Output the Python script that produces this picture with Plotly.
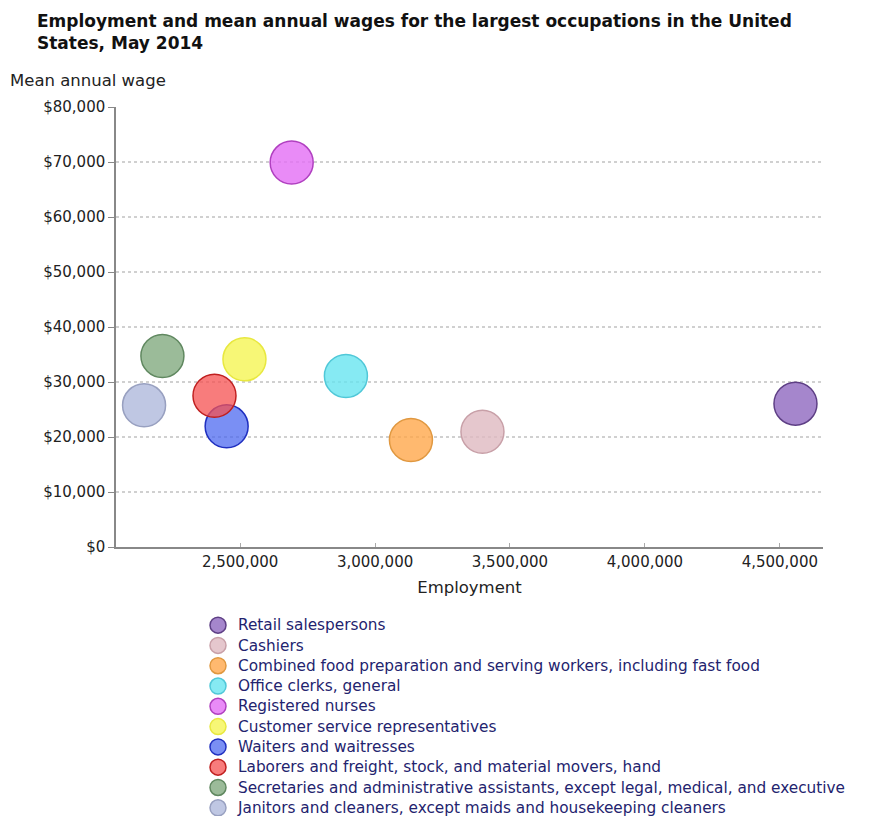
import plotly.graph_objects as go

occupations = [
    "Retail salespersons",
    "Cashiers",
    "Combined food preparation and serving workers, including fast food",
    "Office clerks, general",
    "Registered nurses",
    "Customer service representatives",
    "Waiters and waitresses",
    "Laborers and freight, stock, and material movers, hand",
    "Secretaries and administrative assistants, except legal, medical, and executive",
    "Janitors and cleaners, except maids and housekeeping cleaners",
]
employment = [4558000, 3398000, 3133000, 2892000, 2691000, 2516000, 2450000, 2405000, 2212000, 2144000]
mean_wage = [26060, 20960, 19450, 31090, 69900, 34120, 21940, 27500, 34730, 25760]

fill_colors = [
    "rgba(140,100,190,0.78)",
    "rgba(222,185,192,0.80)",
    "rgba(255,165,70,0.78)",
    "rgba(100,228,240,0.78)",
    "rgba(228,110,245,0.80)",
    "rgba(245,245,80,0.78)",
    "rgba(70,100,240,0.72)",
    "rgba(245,80,80,0.75)",
    "rgba(130,170,128,0.80)",
    "rgba(175,185,220,0.80)",
]
line_colors = ["#5e3f85", "#c8a0a8", "#e09840", "#50c8d8", "#b040c0",
               "#e8e840", "#2030c0", "#c02020", "#608860", "#98a0c0"]

# page offset of the plot div (default body margin) is compensated in margins
L, R, T, B = 108, 60, 99, 277
PW, PH = 875 - L - R, 816 - T - B

fig = go.Figure()
for name, x, y, fc, lc in zip(occupations, employment, mean_wage, fill_colors, line_colors):
    fig.add_trace(go.Scatter(
        x=[x], y=[y], mode="markers",
        name='<span style="font-size:15.3px">' + name + '</span>',
        marker=dict(size=43, color=fc, line=dict(color=lc, width=1.5)),
    ))

fig.update_layout(
    width=875, height=816,
    paper_bgcolor="white", plot_bgcolor="white",
    margin=dict(l=L, r=R, t=T, b=B, autoexpand=False),
    title=dict(
        text="Employment and mean annual wages for the largest occupations in the United<br>States, May 2014",
        x=29/875, xanchor="left", xref="container",
        y=1 - 19/816, yanchor="top", yref="container",
        font=dict(family="DejaVu Sans", size=17, color="#111111", weight="bold"),
    ),
    font=dict(family="DejaVu Sans", size=15, color="#222222"),
    xaxis=dict(
        range=[2040000, 4660000],
        tickvals=[2500000, 3000000, 3500000, 4000000, 4500000],
        ticktext=["2,500,000", "3,000,000", "3,500,000", "4,000,000", "4,500,000"],
        showgrid=False, zeroline=False,
        showline=True, linecolor="#888888", linewidth=1.5,
        ticks="inside", ticklen=4, tickcolor="#aaaaaa",
        tickfont=dict(family="DejaVu Sans", size=15, color="#222222"),
        title=dict(text="Employment", font=dict(family="DejaVu Sans", size=16.5, color="#222222"), standoff=12),
    ),
    yaxis=dict(
        range=[0, 80000],
        tickvals=[0, 10000, 20000, 30000, 40000, 50000, 60000, 70000, 80000],
        ticktext=["$0", "$10,000", "$20,000", "$30,000", "$40,000", "$50,000", "$60,000", "$70,000", "$80,000"],
        showgrid=True, gridcolor="#d0d0d0", griddash="dot", gridwidth=1.5,
        zeroline=False,
        showline=True, linecolor="#888888", linewidth=1.5,
        ticks="outside", ticklen=6, tickcolor="#888888",
        tickfont=dict(family="DejaVu Sans", size=15, color="#222222"),
    ),
    showlegend=True,
    legend=dict(
        x=(190 - L) / PW, xanchor="left",
        y=(T + PH - 602) / PH, yanchor="top",
        font=dict(family="DejaVu Sans", size=13.3, color="#23236e"),
        bgcolor="rgba(0,0,0,0)", tracegroupgap=0,
    ),
    annotations=[dict(
        text="Mean annual wage", xref="paper", yref="paper",
        x=(0 - L) / PW, y=(T + PH - 72) / PH, xanchor="left", yanchor="middle",
        showarrow=False, font=dict(family="DejaVu Sans", size=16.5, color="#222222"),
    )],
)

fig.write_html("out.html")
